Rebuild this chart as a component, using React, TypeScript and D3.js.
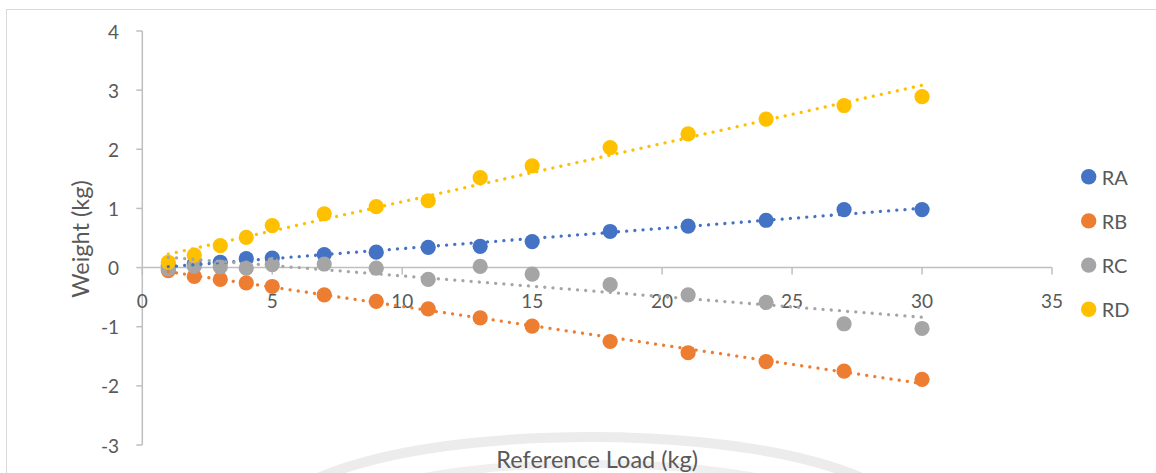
import React from "react";
import * as d3 from "d3";

const loads = [1, 2, 3, 4, 5, 7, 9, 11, 13, 15, 18, 21, 24, 27, 30];
const seriesNames = ["RA", "RB", "RC", "RD"];
const RA = [0.03, 0.07, 0.09, 0.15, 0.16, 0.22, 0.26, 0.34, 0.36, 0.44, 0.61, 0.7, 0.8, 0.98, 0.98];
const RB = [-0.05, -0.15, -0.2, -0.26, -0.32, -0.46, -0.57, -0.7, -0.85, -0.99, -1.25, -1.44, -1.59, -1.75, -1.89];
const RC = [-0.02, 0.02, 0.01, -0.01, 0.05, 0.06, -0.01, -0.2, 0.02, -0.11, -0.29, -0.46, -0.59, -0.95, -1.03];
const RD = [0.09, 0.21, 0.37, 0.51, 0.71, 0.91, 1.03, 1.13, 1.52, 1.72, 2.03, 2.26, 2.51, 2.74, 2.89];
const xTicks = [0, 5, 10, 15, 20, 25, 30, 35];
const yTicks = [-3, -2, -1, 0, 1, 2, 3, 4];
const xTitle = "Reference Load (kg)";
const yTitle = "Weight (kg)";

const colors = ["#4472C4", "#ED7D31", "#A5A5A5", "#FFC000"];
const seriesValues = [RA, RB, RC, RD];
const FONT = "Lato, 'Open Sans', sans-serif";
const TXT = "#595959";

function linFit(xs: number[], ys: number[]) {
  const mx = d3.mean(xs) as number;
  const my = d3.mean(ys) as number;
  let num = 0, den = 0;
  xs.forEach((x, i) => {
    num += (x - mx) * (ys[i] - my);
    den += (x - mx) * (x - mx);
  });
  const b = num / den;
  return { a: my - b * mx, b };
}

export default function App() {
  const x = d3.scaleLinear().domain([0, 35]).range([142.3, 1052]);
  const y = d3.scaleLinear().domain([-3, 4]).range([445, 31]);
  const x0 = x(0);
  const y0 = y(0);
  const xmin = d3.min(loads) as number;
  const xmax = d3.max(loads) as number;
  const line = d3.line<[number, number]>().x((d) => x(d[0])).y((d) => y(d[1]));

  const series = seriesNames.map((name, i) => ({
    name,
    color: colors[i],
    values: seriesValues[i],
    fit: linFit(loads, seriesValues[i]),
  }));

  return (
    <svg
      width={1156}
      height={473}
      style={{ position: "absolute", left: 0, top: 0, background: "#fff" }}
    >
      <rect x={0} y={0} width={1156} height={473} fill="#ffffff" />
      {/* faint watermark arcs */}
      <ellipse cx={590} cy={520} rx={315} ry={83} fill="none" stroke="#ececec" strokeWidth={10} />
      <ellipse cx={590} cy={522} rx={262} ry={58} fill="none" stroke="#efefef" strokeWidth={8} />
      {/* chart border */}
      <rect x={6.5} y={9.5} width={1200} height={520} fill="none" stroke="#d9d9d9" strokeWidth={1} />

      {/* axes */}
      <line x1={x0} x2={x0} y1={y(4)} y2={y(-3)} stroke="#bfbfbf" strokeWidth={1.5} />
      <line x1={x0} x2={x(35)} y1={y0} y2={y0} stroke="#bfbfbf" strokeWidth={1.5} />
      {yTicks.map((t) => (
        <g key={"yt" + t}>
          <line x1={x0 - 6} x2={x0} y1={y(t)} y2={y(t)} stroke="#bfbfbf" strokeWidth={1.5} />
          <text
            x={119}
            y={y(t)}
            textAnchor="end"
            dominantBaseline="central"
            fontFamily={FONT}
            fontSize={19}
            fill={TXT}
          >
            {t}
          </text>
        </g>
      ))}
      {xTicks.map((t) => (
        <g key={"xt" + t}>
          <line x1={x(t)} x2={x(t)} y1={y0} y2={y0 + 7} stroke="#bfbfbf" strokeWidth={1.5} />
          <text
            x={x(t)}
            y={300}
            textAnchor="middle"
            dominantBaseline="central"
            fontFamily={FONT}
            fontSize={19}
            fill={TXT}
          >
            {t}
          </text>
        </g>
      ))}

      {/* titles */}
      <text
        x={(x(0) + x(35)) / 2}
        y={459}
        textAnchor="middle"
        dominantBaseline="central"
        fontFamily={FONT}
        fontSize={23.5}
        fill={TXT}
      >
        {xTitle}
      </text>
      <text
        transform={`translate(80,239) rotate(-90)`}
        textAnchor="middle"
        dominantBaseline="central"
        fontFamily={FONT}
        fontSize={23.5}
        fill={TXT}
      >
        {yTitle}
      </text>

      {/* markers */}
      {series.map((s) => (
        <g key={"m" + s.name}>
          {s.values.map((v, j) => (
            <circle key={j} cx={x(loads[j])} cy={y(v)} r={7.6} fill={s.color} />
          ))}
        </g>
      ))}

      {/* trendlines */}
      {series.map((s) => (
        <path
          key={"t" + s.name}
          d={
            line([
              [xmin, s.fit.a + s.fit.b * xmin],
              [xmax, s.fit.a + s.fit.b * xmax],
            ]) as string
          }
          fill="none"
          stroke={s.color}
          strokeWidth={3.3}
          strokeLinecap="round"
          strokeDasharray="0.01 8.2"
        />
      ))}

      {/* legend */}
      {series.map((s, i) => (
        <g key={"l" + s.name} transform={`translate(1088.7,${176.7 + i * 44.2})`}>
          <circle cx={0} cy={0} r={7.7} fill={s.color} />
          <text
            x={13}
            y={0}
            dominantBaseline="central"
            fontFamily={FONT}
            fontSize={20}
            fill={TXT}
          >
            {s.name}
          </text>
        </g>
      ))}
    </svg>
  );
}
